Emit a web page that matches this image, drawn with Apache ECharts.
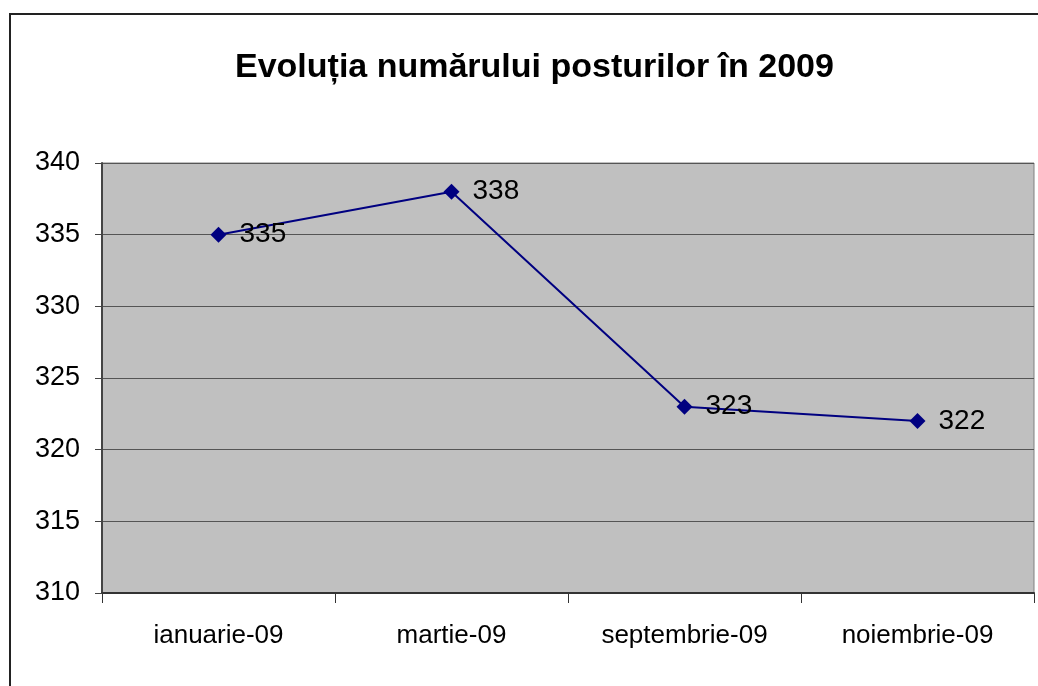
<!DOCTYPE html>
<html>
<head>
<meta charset="utf-8">
<script src="https://cdn.jsdelivr.net/npm/echarts@6/dist/echarts.min.js"></script>
<style>
  html, body { margin: 0; padding: 0; background: #fff; }
  #chart { width: 1038px; height: 686px; }
</style>
</head>
<body>
<div id="chart"></div>
<script>
// date din grafic
const luni = ['ianuarie-09', 'martie-09', 'septembrie-09', 'noiembrie-09'];
const posturi = [335, 338, 323, 322];
const titlu = 'Evoluția numărului posturilor în 2009';

const chart = echarts.init(document.getElementById('chart'));
const font = '"Liberation Sans", Arial, sans-serif';

chart.setOption({
  animation: false,
  textStyle: { fontFamily: font },
  title: {
    text: titlu,
    left: 230,
    top: 46,
    textStyle: { fontSize: 34, fontWeight: 'bold', color: '#000', fontFamily: font },
  },
  // chenarul exterior
  graphic: [{
    type: 'rect',
    shape: { x: 10, y: 14, width: 1200, height: 1000 },
    style: { fill: 'none', stroke: '#222', lineWidth: 2 },
    silent: true,
  }],
  grid: {
    left: 102, right: 4, top: 163, bottom: 93,
    show: true,
    backgroundColor: '#c0c0c0',
    borderColor: '#808080',
    borderWidth: 1,
  },
  xAxis: {
    type: 'category',
    data: luni,
    boundaryGap: true,
    axisLine: { lineStyle: { color: '#333', width: 2 } },
    axisTick: { show: true, length: 10, lineStyle: { color: '#333' } },
    axisLabel: { color: '#000', fontSize: 26, margin: 30 },
  },
  yAxis: {
    type: 'value',
    min: 310,
    max: 340,
    interval: 5,
    axisLine: { show: true, lineStyle: { color: '#444', width: 2 } },
    axisTick: { show: true, length: 7, lineStyle: { color: '#444' } },
    axisLabel: { color: '#000', fontSize: 27, margin: 22 },
    splitLine: { show: true, lineStyle: { color: '#555', width: 1 } },
  },
  series: [{
    name: 'posturi',
    type: 'line',
    data: posturi,
    symbol: 'diamond',
    symbolSize: 16,
    lineStyle: { color: '#000080', width: 2 },
    itemStyle: { color: '#000080' },
    label: {
      show: true,
      position: 'right',
      distance: 13,
      color: '#000',
      fontSize: 28,
    },
  }],
});
</script>
</body>
</html>
